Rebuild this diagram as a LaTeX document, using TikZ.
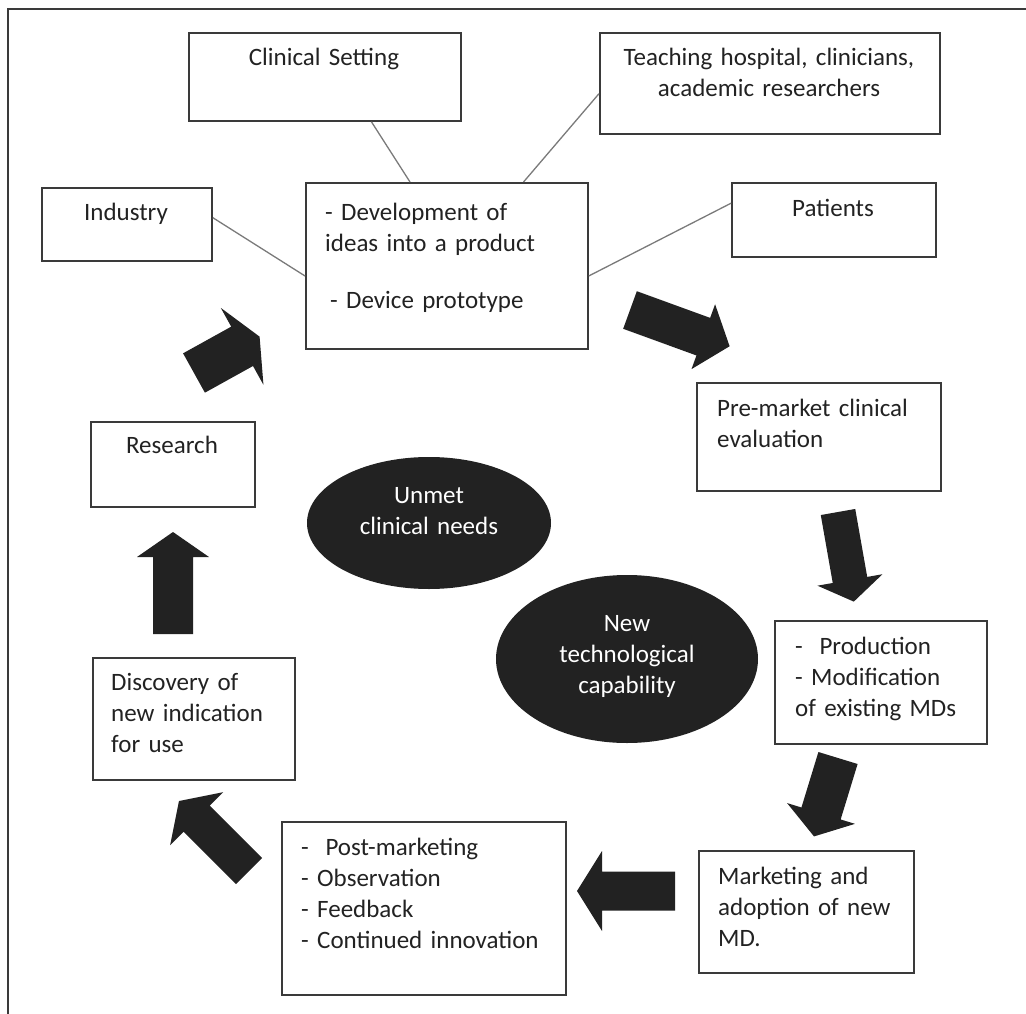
\documentclass[tikz,border=0pt]{standalone}
\usepackage{fontspec}
\setmainfont{Carlito}
\usetikzlibrary{calc,shapes.geometric}
\definecolor{InkDark}{HTML}{222222}
\definecolor{FrameGray}{HTML}{3A3A3A}
\definecolor{LinkGray}{HTML}{7A7A7A}
\tikzset{
  box/.style={draw=FrameGray, line width=1.8pt, anchor=north west, inner sep=0pt},
  txt/.style={text=InkDark, inner sep=0pt, align=left, text width=260pt, anchor=base west},
  ctxt/.style={text=InkDark, inner sep=0pt, align=center, text width=320pt, anchor=base},
  blob/.style={ellipse, fill=InkDark, inner sep=0pt},
  blobtext/.style={ctxt, text=white},
  link/.style={LinkGray, line width=1.3pt},
  flow/.style={fill=InkDark}
}
% block arrow: tail, angle, length, shaft, head width, head length
\newcommand{\flowarrow}[6]{%
  \fill[flow, shift={(#1)}, rotate=#2]
    (0,-#4/2) -- ({#3-#6},-#4/2) -- ({#3-#6},-#5/2) -- (#3,0)
    -- ({#3-#6},#5/2) -- ({#3-#6},#4/2) -- (0,#4/2) -- cycle;}

\begin{document}
\begin{tikzpicture}[x=1pt, y=-1pt, font=\fontsize{25}{31}\selectfont]
  \useasboundingbox (0,0) rectangle (1026,1014);
  \draw[FrameGray, line width=1.8pt] (1026,9) -- (8,9) -- (8,1014);

  % boxes
  \node[box, minimum width=272pt, minimum height=88pt] (clin) at (188,32) {};
  \node[box, minimum width=340pt, minimum height=101pt] (teach) at (599,32) {};
  \node[box, minimum width=170pt, minimum height=73pt] (ind) at (41,187) {};
  \node[box, minimum width=282pt, minimum height=166pt] (dev) at (305,182) {};
  \node[box, minimum width=204pt, minimum height=74pt] (pat) at (731,182) {};
  \node[box, minimum width=244pt, minimum height=108pt] (pre) at (696,382) {};
  \node[box, minimum width=164pt, minimum height=85pt] (res) at (90,421) {};
  \node[box, minimum width=212pt, minimum height=123pt] (prod) at (774,620) {};
  \node[box, minimum width=202pt, minimum height=122pt] (disc) at (92,657) {};
  \node[box, minimum width=284pt, minimum height=173pt] (post) at (281,821) {};
  \node[box, minimum width=215pt, minimum height=122pt] (mkt) at (698,850) {};

  % texts
  \node[ctxt] (clint) at (324,66) {Clinical Setting};
  \node[ctxt] (teacht) at (769,66) {Teaching hospital, clinicians,\\academic researchers};
  \node[ctxt] (indt) at (126,221) {Industry};
  \node[txt] (devt) at (325,221)
    {- Development of\\ideas into a product\\[26pt]\hspace*{5pt}- Device prototype};
  \node[ctxt] (patt) at (833,216) {Patients};
  \node[txt] (pret) at (717,416) {Pre-market clinical\\evaluation};
  \node[ctxt] (rest) at (172,453) {Research};
  \node[txt] (prodt) at (795,654) {-~~Production\\- Modification\\of existing MDs};
  \node[txt] (disct) at (111,690) {Discovery of\\new indication\\for use};
  \node[txt] (postt) at (301,855)
    {-~~Post-marketing\\- Observation\\- Feedback\\- Continued innovation};
  \node[txt] (mktt) at (718,884) {Marketing and\\adoption of new\\MD.};

  % ellipses
  \node[blob, minimum width=244pt, minimum height=132pt] (unmet) at (429,523) {};
  \node[blobtext] (unmett) at (429,503) {Unmet\\clinical needs};
  \node[blob, minimum width=262pt, minimum height=168pt] (newtech) at (627,659) {};
  \node[blobtext] (newtecht) at (627,631) {New\\technological\\capability};

  % links to the development box
  \draw[link] ($(clin.south west)!0.67!(clin.south east)$) -- ($(dev.north west)!0.37!(dev.north east)$);
  \draw[link] ($(teach.north west)!0.6!(teach.south west)$) -- ($(dev.north west)!0.77!(dev.north east)$);
  \draw[link] ($(ind.north east)!0.41!(ind.south east)$) -- ($(dev.north west)!0.56!(dev.south west)$);
  \draw[link] ($(pat.north west)!0.28!(pat.south west)$) -- ($(dev.north east)!0.56!(dev.south east)$);

  % cycle arrows
  \flowarrow{194,373}{29}{75}{45}{88}{20}
  \flowarrow{630,310}{-20}{106}{40}{69}{28}
  \flowarrow{838,512}{-80}{91}{35}{66}{22}
  \flowarrow{838,758}{-107}{82}{41}{71}{24}
  \flowarrow{675,891}{180}{98}{39}{80}{25}
  \flowarrow{249,871}{135}{99}{37}{75}{25}
  \flowarrow{173,634}{90}{102}{40}{72}{25}
\end{tikzpicture}
\end{document}
